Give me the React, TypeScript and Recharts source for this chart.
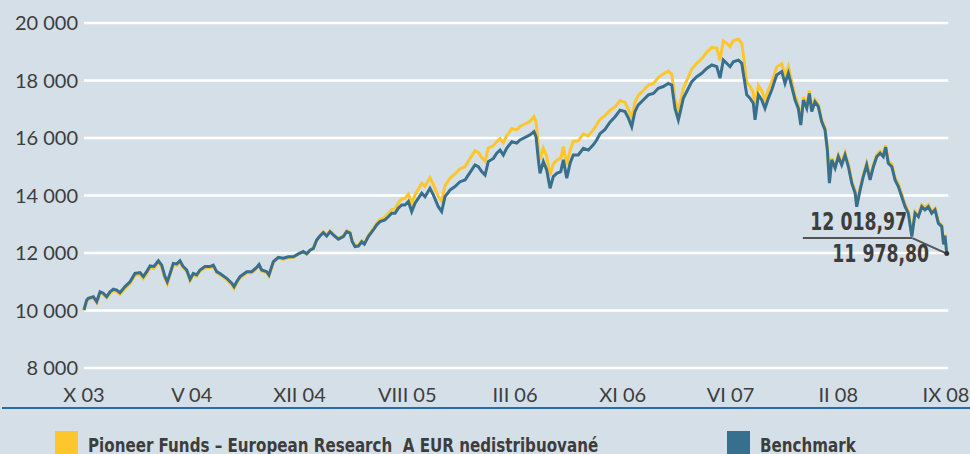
import { LineChart, Line, XAxis, YAxis, CartesianGrid, ReferenceLine, ReferenceDot } from "recharts";

// months elapsed since October 2003
const MONTHS = [
  0, 0.18, 0.29, 0.64, 0.87, 1.1, 1.32, 1.55, 1.78, 2.01,
  2.24, 2.46, 2.81, 3.15, 3.49, 3.83, 4.06, 4.29, 4.52, 4.79,
  5.09, 5.32, 5.54, 5.7, 5.89, 6.11, 6.35, 6.57, 6.76, 7.03,
  7.26, 7.48, 7.71, 7.94, 8.28, 8.62, 8.85, 9.08, 9.31, 9.77,
  10.11, 10.27, 10.45, 10.68, 11.14, 11.48, 11.82, 11.98, 12.16, 12.51,
  12.66, 12.96, 13.3, 13.64, 13.98, 14.33, 14.67, 15.01, 15.24, 15.47,
  15.7, 15.93, 16.15, 16.38, 16.61, 16.84, 17.06, 17.41, 17.75, 17.98,
  18.21, 18.36, 18.55, 18.78, 19.01, 19.19, 19.46, 19.8, 20.04, 20.26,
  20.6, 20.83, 21.06, 21.29, 21.51, 21.75, 21.97, 22.2, 22.43, 22.66,
  22.88, 23.12, 23.34, 23.68, 23.91, 24.25, 24.48, 24.71, 25.05, 25.39,
  25.74, 26.08, 26.3, 26.54, 26.76, 26.99, 27.22, 27.45, 27.67, 28.02,
  28.25, 28.48, 28.7, 28.93, 29.28, 29.62, 29.84, 30.07, 30.3, 30.53,
  30.8, 30.94, 31.1, 31.21, 31.44, 31.67, 31.9, 32.12, 32.36, 32.63,
  32.81, 33.04, 33.27, 33.49, 33.83, 34.18, 34.52, 34.86, 35.09, 35.32,
  35.66, 36.0, 36.35, 36.69, 37.03, 37.26, 37.49, 37.71, 37.94, 38.28,
  38.63, 38.97, 39.31, 39.65, 39.99, 40.23, 40.45, 40.68, 40.84, 41.02,
  41.25, 41.6, 41.94, 42.28, 42.62, 42.97, 43.31, 43.53, 43.76, 43.99,
  44.22, 44.44, 44.79, 45.02, 45.18, 45.36, 45.59, 45.81, 45.93, 46.16,
  46.39, 46.61, 46.84, 47.07, 47.41, 47.76, 47.98, 48.21, 48.44, 48.67,
  48.89, 49.06, 49.24, 49.47, 49.65, 49.81, 50.03, 50.26, 50.49, 50.72,
  50.88, 51.02, 51.18, 51.41, 51.63, 51.86, 52.09, 52.32, 52.55, 52.78,
  52.89, 53.12, 53.34, 53.57, 53.8, 54.03, 54.26, 54.49, 54.71, 54.87,
  55.05, 55.29, 55.51, 55.74, 55.97, 56.2, 56.42, 56.66, 56.88, 57.11,
  57.34, 57.56, 57.79, 58.02, 58.25, 58.48, 58.71, 58.83, 58.93, 59.05,
];

const FUND = [
  10000, 10320, 10380, 10440, 10270, 10610, 10560, 10440, 10600, 10690,
  10660, 10560, 10770, 10940, 11230, 11250, 11110, 11280, 11490, 11460,
  11680, 11510, 11110, 10930, 11230, 11590, 11570, 11690, 11500, 11360,
  11030, 11240, 11190, 11370, 11490, 11490, 11540, 11310, 11250, 11070,
  10890, 10770, 10950, 11130, 11310, 11310, 11470, 11570, 11370, 11310,
  11200, 11670, 11820, 11780, 11840, 11850, 11960, 12040, 11960, 12100,
  12170, 12470, 12610, 12740, 12620, 12770, 12660, 12500, 12600, 12780,
  12720, 12420, 12250, 12270, 12420, 12340, 12610, 12850, 13040, 13170,
  13250, 13380, 13510, 13530, 13740, 13880, 13900, 14050, 13720, 14030,
  14220, 14420, 14320, 14620, 14380, 13970, 13800, 14340, 14600, 14750,
  14930, 15000, 15190, 15380, 15560, 15500, 15320, 15200, 15650, 15740,
  15870, 15980, 15830, 16080, 16320, 16280, 16400, 16460, 16520, 16580,
  16740, 16560, 15720, 15240, 15640, 15360, 14700, 15100, 15230, 15300,
  15700, 15060, 15580, 15880, 15900, 16140, 16080, 16280, 16460, 16650,
  16780, 16960, 17080, 17300, 17240, 17000, 16700, 17240, 17480, 17650,
  17840, 17900, 18100, 18230, 18330, 18220, 17350, 16950, 17300, 17730,
  17990, 18400, 18600, 18760, 18980, 19150, 19130, 18700, 19380, 19300,
  19180, 19380, 19440, 19300, 18700, 17950, 17800, 17580, 17000, 17830,
  17640, 17340, 17680, 17960, 18470, 18580, 18150, 18480, 17980, 17470,
  17150, 16550, 17430, 17130, 17650, 17000, 17340, 17170, 16640, 16340,
  15640, 14490, 15300, 15010, 15410, 15120, 15480, 15070, 14500, 14150,
  13680, 14260, 14730, 15130, 14610, 15070, 15420, 15540, 15420, 15740,
  15200, 15090, 14630, 14400, 14050, 13690, 13450, 12630, 13440, 13320,
  13680, 13570, 13680, 13440, 13560, 13080, 12970, 12350, 12650, 12019,
];

const BENCHMARK = [
  10020, 10360, 10420, 10480, 10310, 10650, 10600, 10480, 10650, 10740,
  10710, 10620, 10830, 11000, 11290, 11320, 11180, 11350, 11550, 11530,
  11730, 11580, 11180, 11000, 11290, 11640, 11620, 11730, 11550, 11410,
  11090, 11290, 11240, 11410, 11530, 11530, 11580, 11350, 11290, 11120,
  10950, 10830, 11000, 11180, 11350, 11350, 11500, 11600, 11410, 11350,
  11240, 11700, 11850, 11820, 11870, 11870, 11970, 12050, 11970, 12100,
  12160, 12450, 12590, 12710, 12590, 12740, 12630, 12480, 12570, 12740,
  12690, 12390, 12220, 12240, 12390, 12310, 12570, 12800, 12980, 13090,
  13150, 13260, 13380, 13380, 13560, 13670, 13670, 13790, 13440, 13730,
  13900, 14080, 13960, 14250, 14020, 13610, 13440, 13960, 14190, 14310,
  14480, 14540, 14710, 14890, 15060, 15000, 14830, 14710, 15180, 15290,
  15470, 15580, 15410, 15640, 15870, 15820, 15930, 15990, 16050, 16110,
  16220, 16050, 15240, 14770, 15180, 14890, 14250, 14660, 14770, 14830,
  15240, 14600, 15120, 15410, 15410, 15640, 15580, 15760, 15930, 16150,
  16300, 16550, 16740, 16970, 16920, 16690, 16390, 16920, 17150, 17320,
  17500, 17550, 17730, 17790, 17900, 17840, 17030, 16630, 16970, 17380,
  17610, 17960, 18130, 18250, 18420, 18540, 18480, 18080, 18710, 18600,
  18480, 18650, 18710, 18600, 18080, 17500, 17380, 17210, 16630, 17500,
  17320, 17030, 17380, 17670, 18190, 18310, 17900, 18250, 17790, 17320,
  17030, 16450, 17320, 17030, 17550, 16920, 17260, 17090, 16570, 16280,
  15580, 14430, 15240, 14950, 15350, 15060, 15410, 15000, 14430, 14080,
  13610, 14190, 14660, 15060, 14540, 15000, 15350, 15470, 15350, 15680,
  15120, 15000, 14540, 14310, 13960, 13610, 13380, 12570, 13380, 13260,
  13610, 13500, 13610, 13380, 13500, 13030, 12920, 12300, 12600, 11979,
];

const X_TICKS = [0, 7.375, 14.75, 22.125, 29.5, 36.875, 44.25, 51.625, 59];
const X_LABELS = ["X 03", "V 04", "XII 04", "VIII 05", "III 06", "XI 06", "VI 07", "II 08", "IX 08"];
const Y_TICKS = [8000, 10000, 12000, 14000, 16000, 18000, 20000];

const FUND_NAME = "Pioneer Funds – European Research  A EUR nedistribuované";
const BENCH_NAME = "Benchmark";
const LAST_FUND_LABEL = "12 018,97";
const LAST_BENCH_LABEL = "11 978,80";

// pointer under the end-value labels
const NOTE_LEVEL = 12520;
const NOTE_START = 49.2;
const NOTE_KNEE = 56.7;

const BG = "#d5dfe7";
const FUND_COLOR = "#fdc62c";
const BENCH_COLOR = "#386f8d";
const TEXT = "#3d3d3d";
const NARROW = "'Liberation Sans Narrow', 'DejaVu Sans Condensed', sans-serif";

const data = MONTHS.map((m, i) => ({ m, fund: FUND[i], bench: BENCHMARK[i] }));
const lastIdx = MONTHS.length - 1;

function formatThousands(v: number): string {
  const thousands = Math.floor(v / 1000);
  const rest = String(v % 1000).padStart(3, "0");
  return `${thousands} ${rest}`;
}

function LegendItem({ left, color, label }: { left: number; color: string; label: string }) {
  return (
    <div style={{ position: "absolute", left, top: 431, display: "flex", alignItems: "flex-start" }}>
      <div style={{ width: 23, height: 30, background: color, flex: "none" }} />
      <div
        style={{
          marginLeft: 10,
          marginTop: 2,
          fontFamily: NARROW,
          fontWeight: "bold",
          fontSize: 20,
          color: TEXT,
          whiteSpace: "pre",
          transform: "scaleX(0.84)",
          transformOrigin: "left top",
        }}
      >
        {label}
      </div>
    </div>
  );
}

export default function App() {
  return (
    <div
      style={{
        position: "absolute",
        left: 0,
        top: 0,
        width: 970,
        height: 454,
        overflow: "hidden",
        background: BG,
      }}
    >
      <LineChart
        width={970}
        height={454}
        data={data}
        margin={{ top: 23, right: 21.8, bottom: 46, left: 0 }}
      >
        <CartesianGrid vertical={false} stroke="#ffffff" strokeWidth={2.5} />
        <XAxis
          dataKey="m"
          type="number"
          domain={[0, 59.15]}
          ticks={X_TICKS}
          interval={0}
          tickFormatter={(v: number) => X_LABELS[X_TICKS.indexOf(v)] ?? ""}
          axisLine={false}
          tickLine={false}
          tickSize={0}
          tickMargin={20}
          height={40}
          tick={{ fill: TEXT, fontSize: 20, fontFamily: "Lato" }}
        />
        <YAxis
          type="number"
          domain={[8000, 20000]}
          ticks={Y_TICKS}
          width={84}
          tickFormatter={formatThousands}
          axisLine={false}
          tickLine={false}
          tickSize={0}
          tickMargin={6}
          tick={{ fill: TEXT, fontSize: 20, fontFamily: "Lato" }}
        />
        <Line
          dataKey="fund"
          name={FUND_NAME}
          stroke={FUND_COLOR}
          strokeWidth={3}
          dot={false}
          isAnimationActive={false}
        />
        <Line
          dataKey="bench"
          name={BENCH_NAME}
          stroke={BENCH_COLOR}
          strokeWidth={3}
          dot={false}
          isAnimationActive={false}
        />
        <ReferenceLine
          segment={[
            { x: NOTE_START, y: NOTE_LEVEL },
            { x: NOTE_KNEE, y: NOTE_LEVEL },
          ]}
          stroke="#555555"
          strokeWidth={2}
        />
        <ReferenceLine
          segment={[
            { x: NOTE_KNEE, y: NOTE_LEVEL },
            { x: MONTHS[lastIdx], y: BENCHMARK[lastIdx] },
          ]}
          stroke="#555555"
          strokeWidth={2}
        />
        <ReferenceDot x={MONTHS[lastIdx]} y={BENCHMARK[lastIdx]} r={2.5} fill="#333333" stroke="none" />
      </LineChart>

      <svg
        width={970}
        height={454}
        style={{ position: "absolute", left: 0, top: 0, pointerEvents: "none" }}
      >
        <text
          transform="translate(907 230) scale(0.8 1)"
          textAnchor="end"
          fontFamily={NARROW}
          fontWeight="bold"
          fontSize={24}
          fill={TEXT}
        >
          {LAST_FUND_LABEL}
        </text>
        <text
          transform="translate(929 262) scale(0.8 1)"
          textAnchor="end"
          fontFamily={NARROW}
          fontWeight="bold"
          fontSize={24}
          fill={TEXT}
        >
          {LAST_BENCH_LABEL}
        </text>
        <line x1={2} x2={970} y1={408} y2={408} stroke="#2a6dae" strokeWidth={2} />
      </svg>

      <LegendItem left={55} color={FUND_COLOR} label={FUND_NAME} />
      <LegendItem left={727} color={BENCH_COLOR} label={BENCH_NAME} />
    </div>
  );
}
